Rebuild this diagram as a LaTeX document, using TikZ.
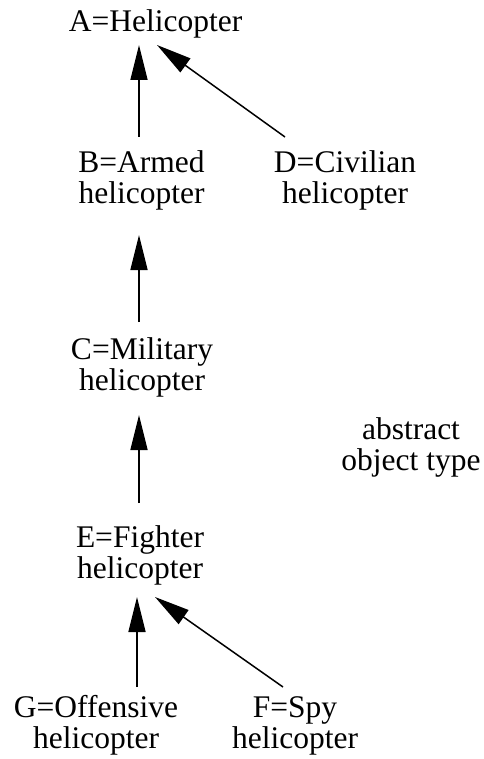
\documentclass[tikz,border=0pt]{standalone}
\usepackage{fontspec}
\setmainfont{Liberation Serif}
\usetikzlibrary{arrows.meta}
\begin{document}
\begin{tikzpicture}[x=1pt, y=-1pt,
  label/.style={inner sep=0pt, align=center, anchor=base,
    font=\fontsize{31.5}{31}\selectfont},
  isa/.style={line width=1.5pt, -{Triangle[length=35pt, width=17pt]}}]
  \useasboundingbox (0,0) rectangle (483,759);

  % type hierarchy (base anchor = baseline of the last line)
  \node[label] (A) at (155.5,32)  {A=Helicopter};
  \node[label] (B) at (141.5,204) {B=Armed\\helicopter};
  \node[label] (D) at (345,204)   {D=Civilian\\helicopter};
  \node[label] (C) at (142,390)   {C=Military\\helicopter};
  \node[label] (E) at (140,578)   {E=Fighter\\helicopter};
  \node[label] (G) at (96,748)    {G=Offensive\\helicopter};
  \node[label] (F) at (295,748)   {F=Spy\\helicopter};
  \node[label] (T) at (411,470)   {abstract\\object type};

  % subtype links, pointing to the supertype
  \draw[isa] ([shift={(-2.5,-67)}]B.base)  -- ([shift={(-16.5,13)}]A.base);
  \draw[isa] ([shift={(-60,-67)}]D.base)   -- ([shift={(1.5,13)}]A.base);
  \draw[isa] ([shift={(-3,-68)}]C.base)    -- ([shift={(-2.5,31)}]B.base);
  \draw[isa] ([shift={(-1,-75)}]E.base)    -- ([shift={(-3,25)}]C.base);
  \draw[isa] ([shift={(41,-61)}]G.base)    -- ([shift={(-3,19)}]E.base);
  \draw[isa] ([shift={(-12,-61)}]F.base)   -- ([shift={(15,19)}]E.base);
\end{tikzpicture}
\end{document}
